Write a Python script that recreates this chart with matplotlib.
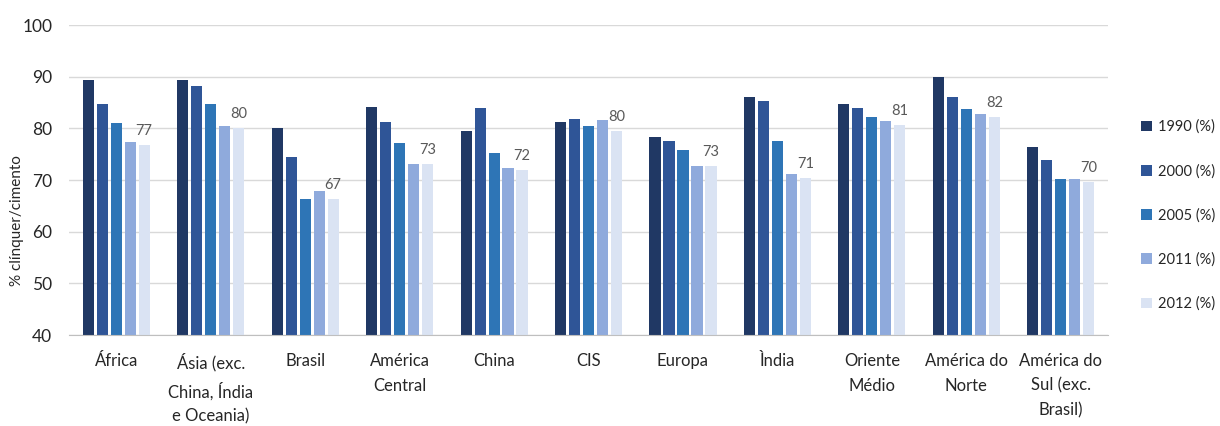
import numpy as np
import matplotlib.pyplot as plt

plt.rcParams['font.family'] = ['Lato', 'DejaVu Sans']

regions = ["África", "Ásia (exc.\nChina, Índia\ne Oceania)", "Brasil", "América\nCentral",
           "China", "CIS", "Europa", "Ìndia", "Oriente\nMédio", "América do\nNorte",
           "América do\nSul (exc.\nBrasil)"]
years = ["1990 (%)", "2000 (%)", "2005 (%)", "2011 (%)", "2012 (%)"]

v1990 = [89.4, 89.4, 80.0, 84.1, 79.5, 81.3, 78.4, 86.0, 84.8, 90.0, 76.4]
v2000 = [84.7, 88.1, 74.5, 81.3, 84.0, 81.8, 77.6, 85.3, 84.0, 86.1, 73.8]
v2005 = [81.1, 84.7, 66.3, 77.1, 75.3, 80.5, 75.8, 77.6, 82.2, 83.7, 70.1]
v2011 = [77.4, 80.5, 67.9, 73.1, 72.4, 81.6, 72.7, 71.1, 81.4, 82.7, 70.1]
v2012 = [76.7, 80.0, 66.3, 73.1, 71.9, 79.5, 72.7, 70.4, 80.6, 82.2, 69.6]
labels_2012 = ["77", "80", "67", "73", "72", "80", "73", "71", "81", "82", "70"]

colors = ["#203864", "#2F5597", "#2E75B6", "#8FAADC", "#DAE3F3"]
series = [v1990, v2000, v2005, v2011, v2012]

fig = plt.figure(figsize=(12.2, 4.26), dpi=100)
ax = fig.add_axes([0.0566, 0.2136, 0.8516, 0.7277])

x = np.arange(len(regions))
step = 0.148
width = 0.118
for i, (vals, c, lab) in enumerate(zip(series, colors, years)):
    ax.bar(x + (i - 2) * step, vals, width, color=c, label=lab, zorder=3)

# data labels for 2012 series
for xi, v, t in zip(x + 2 * step, v2012, labels_2012):
    ax.annotate(t, (xi, v), xytext=(0, 5), textcoords="offset points",
                ha="center", va="bottom", fontsize=10.5, color="#595959")

ax.set_ylim(40, 100)
ax.set_xlim(-0.5, len(regions) - 0.5)
ax.set_yticks(range(40, 101, 10))
ax.set_xticks(x)
ax.set_xticklabels(regions, fontsize=12, linespacing=1.66, color="#262626")
ax.tick_params(axis="y", labelsize=12.5, colors="#262626", length=0, pad=12)
ax.tick_params(axis="x", length=0, pad=13)
ax.grid(axis="y", color="#D9D9D9", linewidth=1, zorder=0)
for s in ["top", "right", "left"]:
    ax.spines[s].set_visible(False)
ax.spines["bottom"].set_color("#BFBFBF")
ax.spines["bottom"].set_zorder(4)

ax.set_ylabel("% clínquer/cimento", fontsize=11, color="#262626")
ax.yaxis.set_label_coords(-0.043, 0.37)

ax.legend(loc="center left", bbox_to_anchor=(1.032, 0.386), frameon=False,
          fontsize=10.5, handlelength=0.75, handleheight=0.75, handletextpad=0.4,
          borderaxespad=0, borderpad=0, labelspacing=2.05, labelcolor="#262626")

fig.savefig("out.png", dpi=100, facecolor="white")
